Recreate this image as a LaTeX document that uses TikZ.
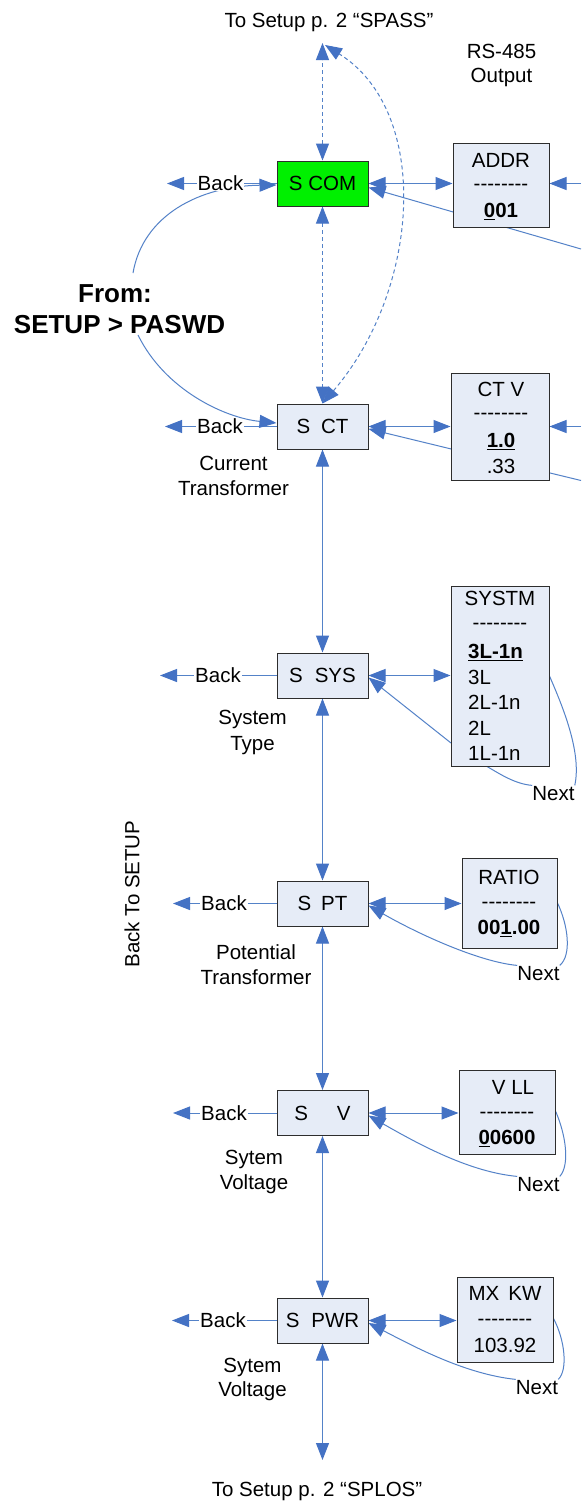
\documentclass[tikz,border=0pt]{standalone}
\usepackage{fontspec}
\setmainfont{Liberation Sans}[Ligatures=TeXOff]
\usetikzlibrary{arrows.meta,backgrounds}
\definecolor{lnblue}{RGB}{84,130,200}
\definecolor{tipblue}{RGB}{68,114,196}
\definecolor{boxfill}{RGB}{230,236,247}
\definecolor{boxline}{RGB}{45,45,45}
\definecolor{scomgreen}{RGB}{0,240,0}
\newcommand{\fsn}{\fontsize{20.5}{24}\selectfont}
\newcommand{\fsb}{\fontsize{26}{31}\selectfont\bfseries}
\begin{document}
\begin{tikzpicture}[x=1pt,y=-1pt,
  >={Triangle[length=17pt,width=13pt,color=tipblue]},
  conn/.style={draw=lnblue, line width=1pt},
  dsh/.style={dash pattern=on 4pt off 3pt},
  sbox/.style={draw=boxline, fill=boxfill, line width=1pt, minimum width=91pt, minimum height=45pt, inner sep=0pt, font=\fsn, text height=14.8pt, text depth=0pt},
  vbox/.style={draw=boxline, fill=boxfill, line width=1pt, inner sep=0pt},
  txt/.style={inner sep=0pt, font=\fsn, text height=14.8pt, text depth=0pt},
  backlbl/.style={txt, fill=white, inner xsep=1pt},
  bigtxt/.style={inner sep=0pt, font=\fsb, text height=18.6pt, text depth=0pt}]
\useasboundingbox (0,0) rectangle (581,1502);

% ---------- S boxes
\node[sbox, fill=scomgreen] (scom) at (322.5,183.5) {S COM};
\node[sbox] (sct) at (322.5,426.5) {S\hspace{11pt}CT};
\node[sbox] (ssys) at (322.5,675.5) {S\hspace{12pt}SYS};
\node[sbox] (spt) at (322.5,903.5) {S\hspace{10pt}PT};
\node[sbox] (sv) at (322.5,1113) {S\hspace{29pt}V};
\node[sbox] (spwr) at (322.5,1320.5) {S\hspace{12pt}PWR};

% ---------- value boxes
\node[vbox, minimum width=96pt, minimum height=84pt] (addr) at (501,185) {};
\node[vbox, minimum width=98pt, minimum height=107pt] (ctv) at (500,426.5) {};
\node[vbox, minimum width=98pt, minimum height=180pt] (systm) at (500,676) {};
\node[vbox, minimum width=95pt, minimum height=90pt] (ratio) at (509.5,903) {};
\node[vbox, minimum width=96pt, minimum height=84pt] (vll) at (507,1112) {};
\node[vbox, minimum width=96pt, minimum height=85pt] (mxkw) at (505,1319.5) {};

% ---------- value box texts
\node[txt] (t1a) at (501,160) {ADDR};
\node[txt] (t1b) at (501,183) {--------};
\node[txt] (t1c) at (501,210) {\textbf{\underline{0}01}};
\node[txt] (t2a) at (501,389) {CT V};
\node[txt] (t2b) at (501,412) {--------};
\node[txt] (t2c) at (501,440) {\textbf{\underline{1.0}}};
\node[txt] (t2d) at (501,466) {.33};
\node[txt] (t3a) at (500,598) {SYSTM};
\node[txt] (t3b) at (500,622) {--------};
\node[txt, anchor=west] (t3c) at (468,651) {\textbf{\underline{3L-1n}}};
\node[txt, anchor=west] (t3d) at (468,677) {3L};
\node[txt, anchor=west] (t3e) at (468,702) {2L-1n};
\node[txt, anchor=west] (t3f) at (468,728) {2L};
\node[txt, anchor=west] (t3g) at (468,753) {1L-1n};
\node[txt] (t4a) at (509,877) {RATIO};
\node[txt] (t4b) at (509,901) {--------};
\node[txt] (t4c) at (509,927) {\textbf{00\underline{1}.00}};
\node[txt] (t5a) at (513,1087) {V LL};
\node[txt] (t5b) at (507,1111) {--------};
\node[txt] (t5c) at (507,1137) {\textbf{\underline{0}0600}};
\node[txt] (t6a) at (505,1293) {MX\hspace{9pt}KW};
\node[txt] (t6b) at (505,1318) {--------};
\node[txt] (t6c) at (505,1345) {103.92};

% ---------- free texts
\node[txt] (title) at (329,20.5) {To Setup p. 2 “SPASS”};
\node[txt] (rs1) at (501.5,51) {RS-485};
\node[txt] (rs2) at (501.5,75) {Output};
\node[bigtxt] (from1) at (115,293) {From:};
\node[bigtxt] (from2) at (119.5,324) {SETUP > PASWD};
\node[txt] (c1a) at (233.5,463) {Current};
\node[txt] (c1b) at (233.5,488) {Transformer};
\node[txt] (c2a) at (252.5,717) {System};
\node[txt] (c2b) at (252.5,743) {Type};
\node[txt] (c3a) at (256,952) {Potential};
\node[txt] (c3b) at (256,977) {Transformer};
\node[txt] (c4a) at (254,1157) {Sytem};
\node[txt] (c4b) at (254,1182) {Voltage};
\node[txt] (c5a) at (252.5,1365) {Sytem};
\node[txt] (c5b) at (252.5,1389) {Voltage};
\node[txt, rotate=90] (backsetup) at (132,894) {Back To SETUP};
\node[txt] (bottom) at (317,1489) {To Setup p. 2 “SPLOS”};
\node[txt] (nsys) at (553.5,793) {Next};
\node[txt] (nratio) at (538.5,973) {Next};
\node[txt] (nvll) at (538.5,1184) {Next};
\node[txt] (nmx) at (537,1387) {Next};

% ---------- coordinates for free ends
\coordinate (topend) at (322.5,43);
\coordinate (topcurve) at (325,45);
\coordinate (botend) at (322.5,1460);
\coordinate (bk1) at (167,183.5);
\coordinate (bk2) at (165,426.5);
\coordinate (bk3) at (160,675.5);
\coordinate (bk4) at (173,903.5);
\coordinate (bk5) at (173,1113);
\coordinate (bk6) at (172,1320.5);
\coordinate (fromtop) at (133,273);
\coordinate (frombot) at (138,335);
\coordinate (ret1) at (581,249);
\coordinate (ret2) at (581,480.5);
\coordinate (in1) at (581,183.5);
\coordinate (in2) at (581,426.5);
\coordinate (systmleft) at (451,743);

\begin{scope}[on background layer]
\fill[white] (0,0) rectangle (581,1502);
% dashed links
\draw[conn,dsh,<->] (scom.north) -- (topend);
\draw[conn,dsh,<->] (scom.south) -- (sct.north);
\draw[conn,dsh,<->] (sct.north) .. controls (420,290) and (432,112) .. (topcurve);
% vertical chain
\draw[conn,<->] (sct.south) -- (ssys.north);
\draw[conn,<->] (ssys.south) -- (spt.north);
\draw[conn,<->] (spt.south) -- (sv.north);
\draw[conn,<->] (sv.south) -- (spwr.north);
\draw[conn,<->] (spwr.south) -- (botend);
% back arrows
\draw[conn,->] (scom.west) -- (bk1);
\draw[conn,->] (sct.west) -- (bk2);
\draw[conn,->] (ssys.west) -- (bk3);
\draw[conn,->] (spt.west) -- (bk4);
\draw[conn,->] (sv.west) -- (bk5);
\draw[conn,->] (spwr.west) -- (bk6);
% from setup
\draw[conn,->] (fromtop) .. controls (143,215) and (200,186) .. ([yshift=-1.5pt]scom.west);
\draw[conn,->] (frombot) .. controls (165,390) and (225,418) .. ([yshift=3.5pt]sct.west);
% S <-> value
\draw[conn,<->] (scom.east) -- (scom.east -| addr.west);
\draw[conn,<->] (sct.east) -- (sct.east -| ctv.west);
\draw[conn,<->] (ssys.east) -- (ssys.east -| systm.west);
\draw[conn,<->] (spt.east) -- (spt.east -| ratio.west);
\draw[conn,<->] (sv.east) -- (sv.east -| vll.west);
\draw[conn,<->] (spwr.east) -- (spwr.east -| mxkw.west);
% incoming from right
\draw[conn,->] (in1) -- (in1 -| addr.east);
\draw[conn,->] (in2) -- (in2 -| ctv.east);
% return lines
\draw[conn,->] (ret1) -- ([yshift=-4pt]scom.east);
\draw[conn,->] (ret2) -- ([yshift=-2.4pt]sct.east);
\draw[conn,->] (systmleft) -- ([yshift=-2pt]ssys.east);
% next loops
\draw[conn] (systm.east) .. controls (562,705) and (582,752) .. (nsys.north east);
\draw[conn] (nsys.north west) .. controls (515,784) and (500,774) .. (systm.south -| 487,0);
\draw[conn] (ratio.east) .. controls (568,925) and (572,955) .. (nratio.north east);
\draw[conn,->] (nratio.north west) .. controls (480,962) and (420,935) .. ([yshift=-2pt]spt.east);
\draw[conn] ([yshift=1pt]vll.east) .. controls (566,1135) and (570,1165) .. (nvll.north east);
\draw[conn,->] (nvll.north west) .. controls (470,1172) and (420,1145) .. ([yshift=-2.5pt]sv.east);
\draw[conn] ([yshift=1pt]mxkw.east) .. controls (565,1340) and (568,1370) .. (nmx.north east);
\draw[conn,->] (nmx.north west) .. controls (465,1374) and (415,1347) .. ([yshift=-2.5pt]spwr.east);
\end{scope}

% back labels on top of lines
\node[backlbl] (b1) at (220.5,183.5) {Back};
\node[backlbl] (b2) at (220,426.5) {Back};
\node[backlbl] (b3) at (218,675.5) {Back};
\node[backlbl] (b4) at (224,903.5) {Back};
\node[backlbl] (b5) at (224,1113) {Back};
\node[backlbl] (b6) at (223,1320.5) {Back};
\end{tikzpicture}
\end{document}
